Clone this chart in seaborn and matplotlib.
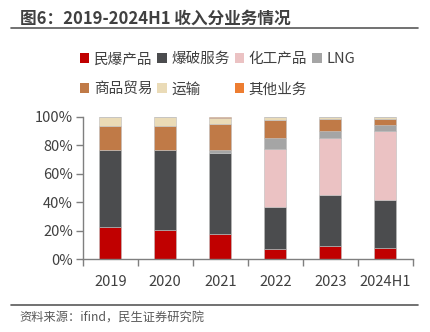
import matplotlib
matplotlib.use("Agg")
import matplotlib.pyplot as plt
from matplotlib.lines import Line2D
import numpy as np
import pandas as pd
import seaborn as sns

sns.set_theme(style="white")
plt.rcParams["font.family"] = ["Noto Sans CJK SC", "DejaVu Sans"]

# Revenue share by business line (%)
years = ["2019", "2020", "2021", "2022", "2023", "2024H1"]
segments = ["民爆产品", "爆破服务", "化工产品", "LNG", "商品贸易", "运输", "其他业务"]
explosives = [22.6, 20.5, 17.7, 7.4, 9.3, 8.2]
blasting = [53.8, 55.9, 56.6, 29.5, 35.5, 33.6]
chemicals = [0.0, 0.0, 0.0, 40.6, 40.4, 48.1]
lng = [0.0, 0.0, 2.1, 7.5, 4.5, 4.0]
trading = [17.2, 17.2, 18.2, 12.6, 8.4, 4.2]
transport = [6.0, 5.9, 4.2, 1.9, 1.4, 1.4]
other = [0.4, 0.5, 1.2, 0.5, 0.5, 0.5]

colors = ["#C00000", "#4B4C4E", "#EBC2C3", "#A5A5A5", "#C07A47", "#EADBB7", "#ED7D31"]

series = [explosives, blasting, chemicals, lng, trading, transport, other]
df = pd.DataFrame({name: vals for name, vals in zip(segments, series)}, index=years)
df.index.name = "year"

fig = plt.figure(figsize=(4.31, 3.32), dpi=100)
ax = fig.add_axes([0.192, 0.219, 0.766, 0.4295])

bottom = np.zeros(len(years))
for name, col in zip(segments, colors):
    vals = df[name].values / 100.0
    sns.barplot(x=df.index, y=vals, order=years, color=col, width=0.4,
                bottom=bottom, edgecolor="#BDBDBD", linewidth=0.4,
                ax=ax, saturation=1)
    bottom = bottom + vals

ax.set_ylim(0, 1.0)
ax.set_xlim(-0.5, len(years) - 0.5)
ax.set_yticks(np.arange(0, 1.01, 0.2))
ax.set_yticklabels([f"{int(v * 100)}%" for v in np.arange(0, 1.01, 0.2)])
ax.set_xlabel("")
ax.set_ylabel("")

# category boundary ticks on the x axis
ax.set_xticks(np.arange(-0.5, len(years)), minor=True)
ax.tick_params(axis="x", which="major", length=0, pad=11, labelsize=10.5, colors="#404040")
ax.tick_params(axis="x", which="minor", length=5, width=1, color="#7F7F7F", direction="out", bottom=True)
ax.tick_params(axis="y", which="major", length=5, width=1, color="#7F7F7F", direction="out",
               left=True, labelsize=10.5, colors="#404040", pad=2)

for s in ["top", "right"]:
    ax.spines[s].set_visible(False)
for s in ["left", "bottom"]:
    ax.spines[s].set_color("#7F7F7F")
    ax.spines[s].set_linewidth(1)

# legend laid out row by row in four columns
handles = [plt.Rectangle((0, 0), 1, 1, facecolor=c, edgecolor="none") for c in colors]
idx = [0, 4, 1, 5, 2, 6, 3]
leg = fig.legend([handles[i] for i in idx], [segments[i] for i in idx],
                 ncol=4, loc="upper left", bbox_to_anchor=(0.172, 0.86),
                 frameon=False, fontsize=10.5, handlelength=0.65, handleheight=0.65,
                 handletextpad=0.3, columnspacing=0.35, labelspacing=1.1,
                 borderaxespad=0)
for t in leg.get_texts():
    t.set_color("#404040")

# title and source
fig.text(0.046, 0.944, "图6：2019-2024H1 收入分业务情况", fontsize=12, fontweight="bold",
         color="#404040", va="center", ha="left")
fig.add_artist(Line2D([0.026, 0.97], [0.916, 0.916], color="#595959", linewidth=1.2,
                      transform=fig.transFigure))
fig.add_artist(Line2D([0.026, 0.97], [0.081, 0.081], color="#595959", linewidth=1.2,
                      transform=fig.transFigure))
fig.text(0.046, 0.042, "资料来源：ifind，民生证券研究院", fontsize=8.8, color="#595959",
         va="center", ha="left")

fig.savefig("out.png", dpi=100)
